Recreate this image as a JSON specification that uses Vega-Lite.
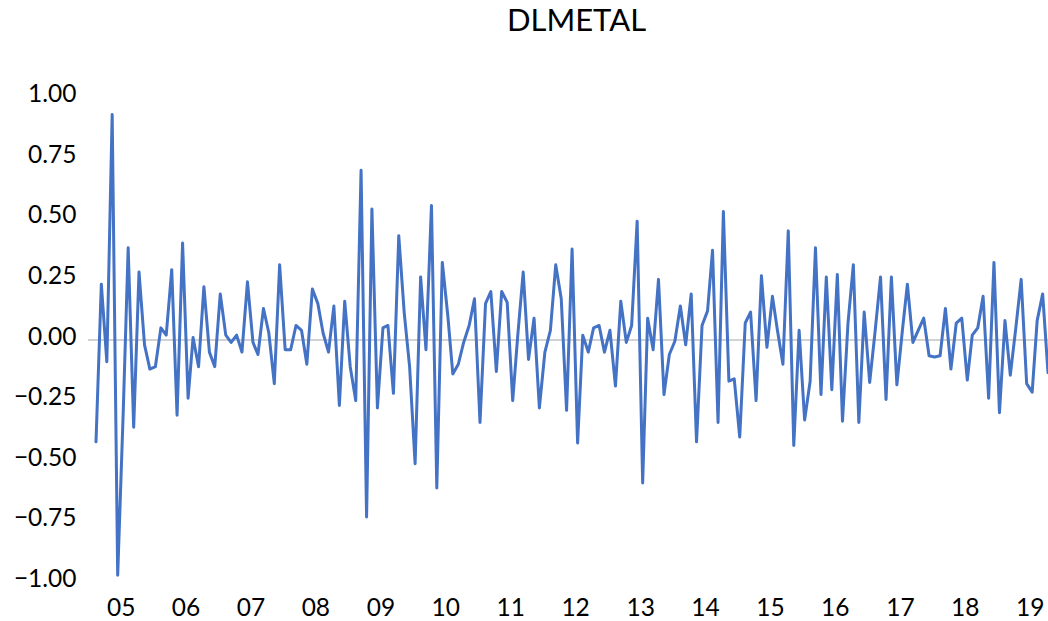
{
  "$schema": "https://vega.github.io/schema/vega-lite/v6.json",
  "width": 960,
  "height": 485,
  "autosize": {"type": "none"},
  "padding": {"left": 88, "top": 97.5, "right": 0, "bottom": 38.5},
  "background": "white",
  "config": {"view": {"stroke": null}, "font": "Lato"},
  "title": {"text": "DLMETAL", "fontSize": 31, "font": "Lato", "fontWeight": "normal", "color": "#000000", "anchor": "middle", "frame": "group", "dx": 8.5, "baseline": "alphabetic", "offset": 20},
  "data": {"values": [
    {"month": "2004-09-01", "v": -0.42}, {"month": "2004-10-01", "v": 0.23}, {"month": "2004-11-01", "v": -0.09}, {"month": "2004-12-01", "v": 0.93},
    {"month": "2005-01-01", "v": -0.97}, {"month": "2005-02-01", "v": -0.30}, {"month": "2005-03-01", "v": 0.38}, {"month": "2005-04-01", "v": -0.36},
    {"month": "2005-05-01", "v": 0.28}, {"month": "2005-06-01", "v": -0.02}, {"month": "2005-07-01", "v": -0.12}, {"month": "2005-08-01", "v": -0.11},
    {"month": "2005-09-01", "v": 0.05}, {"month": "2005-10-01", "v": 0.02}, {"month": "2005-11-01", "v": 0.29}, {"month": "2005-12-01", "v": -0.31},
    {"month": "2006-01-01", "v": 0.40}, {"month": "2006-02-01", "v": -0.24}, {"month": "2006-03-01", "v": 0.01}, {"month": "2006-04-01", "v": -0.11},
    {"month": "2006-05-01", "v": 0.22}, {"month": "2006-06-01", "v": -0.05}, {"month": "2006-07-01", "v": -0.11}, {"month": "2006-08-01", "v": 0.19},
    {"month": "2006-09-01", "v": 0.02}, {"month": "2006-10-01", "v": -0.01}, {"month": "2006-11-01", "v": 0.02}, {"month": "2006-12-01", "v": -0.05},
    {"month": "2007-01-01", "v": 0.24}, {"month": "2007-02-01", "v": -0.01}, {"month": "2007-03-01", "v": -0.06}, {"month": "2007-04-01", "v": 0.13},
    {"month": "2007-05-01", "v": 0.03}, {"month": "2007-06-01", "v": -0.18}, {"month": "2007-07-01", "v": 0.31}, {"month": "2007-08-01", "v": -0.04},
    {"month": "2007-09-01", "v": -0.04}, {"month": "2007-10-01", "v": 0.06}, {"month": "2007-11-01", "v": 0.04}, {"month": "2007-12-01", "v": -0.10},
    {"month": "2008-01-01", "v": 0.21}, {"month": "2008-02-01", "v": 0.15}, {"month": "2008-03-01", "v": 0.03}, {"month": "2008-04-01", "v": -0.05},
    {"month": "2008-05-01", "v": 0.14}, {"month": "2008-06-01", "v": -0.27}, {"month": "2008-07-01", "v": 0.16}, {"month": "2008-08-01", "v": -0.11},
    {"month": "2008-09-01", "v": -0.25}, {"month": "2008-10-01", "v": 0.70}, {"month": "2008-11-01", "v": -0.73}, {"month": "2008-12-01", "v": 0.54},
    {"month": "2009-01-01", "v": -0.28}, {"month": "2009-02-01", "v": 0.05}, {"month": "2009-03-01", "v": 0.06}, {"month": "2009-04-01", "v": -0.22},
    {"month": "2009-05-01", "v": 0.43}, {"month": "2009-06-01", "v": 0.11}, {"month": "2009-07-01", "v": -0.11}, {"month": "2009-08-01", "v": -0.51},
    {"month": "2009-09-01", "v": 0.26}, {"month": "2009-10-01", "v": -0.04}, {"month": "2009-11-01", "v": 0.555}, {"month": "2009-12-01", "v": -0.61},
    {"month": "2010-01-01", "v": 0.32}, {"month": "2010-02-01", "v": 0.10}, {"month": "2010-03-01", "v": -0.14}, {"month": "2010-04-01", "v": -0.10},
    {"month": "2010-05-01", "v": -0.01}, {"month": "2010-06-01", "v": 0.06}, {"month": "2010-07-01", "v": 0.17}, {"month": "2010-08-01", "v": -0.34},
    {"month": "2010-09-01", "v": 0.15}, {"month": "2010-10-01", "v": 0.20}, {"month": "2010-11-01", "v": -0.13}, {"month": "2010-12-01", "v": 0.20},
    {"month": "2011-01-01", "v": 0.155}, {"month": "2011-02-01", "v": -0.25}, {"month": "2011-03-01", "v": 0.015}, {"month": "2011-04-01", "v": 0.28},
    {"month": "2011-05-01", "v": -0.08}, {"month": "2011-06-01", "v": 0.09}, {"month": "2011-07-01", "v": -0.28}, {"month": "2011-08-01", "v": -0.05},
    {"month": "2011-09-01", "v": 0.04}, {"month": "2011-10-01", "v": 0.31}, {"month": "2011-11-01", "v": 0.17}, {"month": "2011-12-01", "v": -0.29},
    {"month": "2012-01-01", "v": 0.375}, {"month": "2012-02-01", "v": -0.425}, {"month": "2012-03-01", "v": 0.02}, {"month": "2012-04-01", "v": -0.05},
    {"month": "2012-05-01", "v": 0.05}, {"month": "2012-06-01", "v": 0.06}, {"month": "2012-07-01", "v": -0.05}, {"month": "2012-08-01", "v": 0.04},
    {"month": "2012-09-01", "v": -0.19}, {"month": "2012-10-01", "v": 0.16}, {"month": "2012-11-01", "v": -0.01}, {"month": "2012-12-01", "v": 0.06},
    {"month": "2013-01-01", "v": 0.49}, {"month": "2013-02-01", "v": -0.59}, {"month": "2013-03-01", "v": 0.09}, {"month": "2013-04-01", "v": -0.04},
    {"month": "2013-05-01", "v": 0.25}, {"month": "2013-06-01", "v": -0.225}, {"month": "2013-07-01", "v": -0.06}, {"month": "2013-08-01", "v": -0.005},
    {"month": "2013-09-01", "v": 0.14}, {"month": "2013-10-01", "v": -0.02}, {"month": "2013-11-01", "v": 0.19}, {"month": "2013-12-01", "v": -0.42},
    {"month": "2014-01-01", "v": 0.06}, {"month": "2014-02-01", "v": 0.12}, {"month": "2014-03-01", "v": 0.37}, {"month": "2014-04-01", "v": -0.34},
    {"month": "2014-05-01", "v": 0.53}, {"month": "2014-06-01", "v": -0.17}, {"month": "2014-07-01", "v": -0.16}, {"month": "2014-08-01", "v": -0.40},
    {"month": "2014-09-01", "v": 0.07}, {"month": "2014-10-01", "v": 0.115}, {"month": "2014-11-01", "v": -0.25}, {"month": "2014-12-01", "v": 0.265},
    {"month": "2015-01-01", "v": -0.03}, {"month": "2015-02-01", "v": 0.18}, {"month": "2015-03-01", "v": 0.04}, {"month": "2015-04-01", "v": -0.10},
    {"month": "2015-05-01", "v": 0.45}, {"month": "2015-06-01", "v": -0.435}, {"month": "2015-07-01", "v": 0.04}, {"month": "2015-08-01", "v": -0.33},
    {"month": "2015-09-01", "v": -0.17}, {"month": "2015-10-01", "v": 0.38}, {"month": "2015-11-01", "v": -0.225}, {"month": "2015-12-01", "v": 0.26},
    {"month": "2016-01-01", "v": -0.205}, {"month": "2016-02-01", "v": 0.27}, {"month": "2016-03-01", "v": -0.335}, {"month": "2016-04-01", "v": 0.07},
    {"month": "2016-05-01", "v": 0.31}, {"month": "2016-06-01", "v": -0.34}, {"month": "2016-07-01", "v": 0.115}, {"month": "2016-08-01", "v": -0.175},
    {"month": "2016-09-01", "v": 0.04}, {"month": "2016-10-01", "v": 0.26}, {"month": "2016-11-01", "v": -0.245}, {"month": "2016-12-01", "v": 0.26},
    {"month": "2017-01-01", "v": -0.185}, {"month": "2017-02-01", "v": 0.04}, {"month": "2017-03-01", "v": 0.23}, {"month": "2017-04-01", "v": -0.01},
    {"month": "2017-05-01", "v": 0.04}, {"month": "2017-06-01", "v": 0.09}, {"month": "2017-07-01", "v": -0.065}, {"month": "2017-08-01", "v": -0.07},
    {"month": "2017-09-01", "v": -0.065}, {"month": "2017-10-01", "v": 0.13}, {"month": "2017-11-01", "v": -0.12}, {"month": "2017-12-01", "v": 0.07},
    {"month": "2018-01-01", "v": 0.09}, {"month": "2018-02-01", "v": -0.165}, {"month": "2018-03-01", "v": 0.02}, {"month": "2018-04-01", "v": 0.05},
    {"month": "2018-05-01", "v": 0.18}, {"month": "2018-06-01", "v": -0.24}, {"month": "2018-07-01", "v": 0.32}, {"month": "2018-08-01", "v": -0.30},
    {"month": "2018-09-01", "v": 0.08}, {"month": "2018-10-01", "v": -0.145}, {"month": "2018-11-01", "v": 0.05}, {"month": "2018-12-01", "v": 0.25},
    {"month": "2019-01-01", "v": -0.18}, {"month": "2019-02-01", "v": -0.215}, {"month": "2019-03-01", "v": 0.08}, {"month": "2019-04-01", "v": 0.19},
    {"month": "2019-05-01", "v": -0.135}
  ]},
  "layer": [
    {
      "data": {"values": [{"zero": 0}]},
      "mark": {"type": "rule", "color": "#a6a6a6", "strokeWidth": 1.2},
      "encoding": {"y": {"field": "zero", "type": "quantitative"}}
    },
    {
      "mark": {"type": "line", "color": "#4472c4", "strokeWidth": 3, "strokeJoin": "round", "strokeCap": "round"},
      "encoding": {
        "x": {
          "field": "month", "type": "temporal",
          "scale": {"type": "utc", "domain": [{"year": 2004, "month": 7, "date": 18, "utc": true}, {"year": 2019, "month": 5, "date": 1, "utc": true}], "nice": false},
          "axis": {
            "title": null, "format": "%y", "domain": false, "ticks": false, "tickSize": 0, "grid": false,
            "labelFont": "Lato", "labelFontSize": 24.5, "labelColor": "#000000", "labelPadding": 14, "labelOffset": 3, "labelFlush": false, "labelOverlap": false,
            "values": [
              {"year": 2005, "month": 1, "date": 1, "utc": true}, {"year": 2006, "month": 1, "date": 1, "utc": true},
              {"year": 2007, "month": 1, "date": 1, "utc": true}, {"year": 2008, "month": 1, "date": 1, "utc": true},
              {"year": 2009, "month": 1, "date": 1, "utc": true}, {"year": 2010, "month": 1, "date": 1, "utc": true},
              {"year": 2011, "month": 1, "date": 1, "utc": true}, {"year": 2012, "month": 1, "date": 1, "utc": true},
              {"year": 2013, "month": 1, "date": 1, "utc": true}, {"year": 2014, "month": 1, "date": 1, "utc": true},
              {"year": 2015, "month": 1, "date": 1, "utc": true}, {"year": 2016, "month": 1, "date": 1, "utc": true},
              {"year": 2017, "month": 1, "date": 1, "utc": true}, {"year": 2018, "month": 1, "date": 1, "utc": true},
              {"year": 2019, "month": 1, "date": 1, "utc": true}
            ]
          }
        },
        "y": {
          "field": "v", "type": "quantitative",
          "scale": {"domain": [-1, 1], "nice": false, "zero": false},
          "axis": {
            "title": null, "format": ".2f", "domain": false, "ticks": false, "tickSize": 0, "grid": false,
            "values": [-1, -0.75, -0.5, -0.25, 0, 0.25, 0.5, 0.75, 1],
            "labelFont": "Lato", "labelFontSize": 24.5, "labelColor": "#000000", "labelPadding": 12, "labelOffset": -3, "labelFlush": false, "labelOverlap": false
          }
        }
      }
    }
  ]
}
